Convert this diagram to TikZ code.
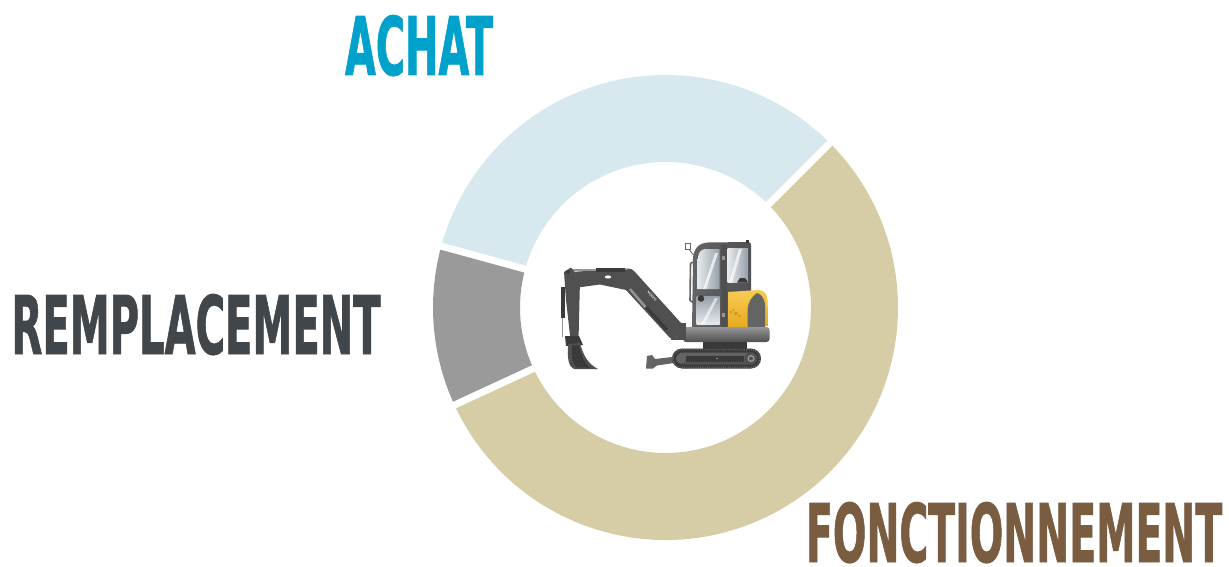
\documentclass[tikz,border=0pt]{standalone}
\usepackage{fontspec}
\usepackage{graphicx}
\newfontfamily\labelfont{DejaVu Sans Condensed}[BoldFeatures={FakeBold=1.2}]
\definecolor{achatblue}{RGB}{0,161,203}
\definecolor{remgray}{RGB}{65,70,74}
\definecolor{foncbrown}{RGB}{122,92,64}
\definecolor{ringblue}{RGB}{215,232,238}
\definecolor{ringgray}{RGB}{154,154,154}
\definecolor{ringtan}{RGB}{214,204,166}
\definecolor{exdark}{RGB}{58,58,58}
\definecolor{exbody}{RGB}{80,80,80}
\definecolor{exmid}{RGB}{100,100,100}
\definecolor{exlight}{RGB}{150,150,150}
\definecolor{glassA}{RGB}{232,235,238}
\definecolor{glassB}{RGB}{150,160,170}
\definecolor{yelA}{RGB}{248,204,84}
\definecolor{yelB}{RGB}{232,168,30}
\tikzset{
  bigtext/.style={anchor=north west, inner sep=0pt, outer sep=0pt},
  gapline/.style={white, line width=7pt},
}
\begin{document}
\begin{tikzpicture}[x=1pt,y=-1pt]
\useasboundingbox (0,0) rectangle (1229,567);
% ---------------- donut ----------------
\begin{scope}[shift={(665.5,307.5)}]
  \fill[ringblue] (-45:232.5) arc[start angle=-45, end angle=-164.7, radius=232.5]
     -- (-164.7:145.5) arc[start angle=-164.7, end angle=-45, radius=145.5] -- cycle;
  \fill[ringgray] (-164.7:232.5) arc[start angle=-164.7, end angle=-204.8, radius=232.5]
     -- (-204.8:145.5) arc[start angle=-204.8, end angle=-164.7, radius=145.5] -- cycle;
  \fill[ringtan] (-204.8:232.5) arc[start angle=-204.8, end angle=-405, radius=232.5]
     -- (-405:145.5) arc[start angle=-405, end angle=-204.8, radius=145.5] -- cycle;
  \draw[gapline] (-45:140) -- (-45:240);
  \draw[gapline] (-164.7:140) -- (-164.7:240);
  \draw[gapline] (-204.8:140) -- (-204.8:240);
\end{scope}
% ---------------- labels ----------------
\node[bigtext, text=achatblue] (achat) at (345,15)
  {\resizebox{148pt}{60pt}{\labelfont\bfseries ACHAT}};
\node[bigtext, text=remgray] (remp) at (11.5,294)
  {\resizebox{369pt}{60pt}{\labelfont\bfseries REMPLACEMENT}};
\node[bigtext, text=foncbrown] (fonc) at (806,502)
  {\resizebox{416pt}{60pt}{\labelfont\bfseries FONCTIONNEMENT}};
% ---------------- excavator ----------------
% dozer blade
\fill[exmid] (647,356) -- (652,355) -- (655,359) -- (672,357) -- (674,363) -- (657,365.5) -- (653,368.5) -- (646,368.5) -- cycle;
% track
\fill[exdark, rounded corners=10pt] (672,348.5) rectangle (761,368.5);
\draw[exmid, line width=1.6pt, dash pattern=on 1pt off 1.3pt, rounded corners=9pt] (673,349.5) rectangle (760,367.5);
\shade[top color=exmid, bottom color=exbody, rounded corners=6pt] (676.5,352.5) rectangle (756.5,364.5);
\fill[exdark] (686,355.5) rectangle (744,361.5);
\fill[exmid] (681,358.5) circle[radius=5];
\fill[exbody] (751,358.5) circle[radius=6.2];
\fill[exlight] (751,358.5) circle[radius=3.6];
\fill[exbody] (751,358.5) circle[radius=2];
\fill[exlight] (717,358.5) circle[radius=0.9];
% swing ring
\fill[exdark] (703,341.5) rectangle (747,349);
% cab body
\shade[left color=exmid, right color=exbody] (692,330) -- (693,258) .. controls (694,248) and (699,243) .. (708,242.5)
   -- (748,242) .. controls (750,242) and (751,243) .. (751,245) -- (751,300) -- (730,300) -- (730,330) -- cycle;
% front upper window
\shade[left color=glassA, right color=glassB] (697.5,262) .. controls (698,253) and (700,249.5) .. (705,249)
   -- (719.5,249) -- (719.5,289) -- (697,289) -- cycle;
\fill[white, opacity=0.7] (703,289) -- (715,253) -- (718,253) -- (706,289) -- cycle;
% front lower window
\shade[top color=glassB, bottom color=glassA] (696.5,296) rectangle (719.5,324.5);
\fill[white, opacity=0.6] (701,324.5) -- (715,298) -- (718,298) -- (704,324.5) -- cycle;
\fill[exdark] (701,298.5) circle[radius=3.3];
% side window
\shade[left color=glassA, right color=glassB] (727.5,248) rectangle (748,282.5);
\fill[white, opacity=0.7] (729,282.5) -- (739,249) -- (742,249) -- (732,282.5) -- cycle;
\fill[exdark] (737,282.5) -- (740,278) -- (745,278) -- (748,282.5) -- cycle;
% door pillar
\fill[exbody] (721,245) rectangle (726.5,328);
\fill[exlight] (722.2,256) rectangle (725.3,259.5);
\fill[exlight] (722.2,313) rectangle (725.3,316.5);
% handrail and mirror
\draw[exmid, line width=1.6pt, rounded corners=1pt] (694,262) -- (690.5,263) -- (690,301) -- (693,302);
\draw[exmid, line width=0.8pt] (688,248) -- (693.5,255);
\fill[white, draw=exmid, line width=0.5pt] (685.5,243.5) rectangle (690,249);
\fill[exdark] (746,239.5) rectangle (748.5,242.5);
% engine cover
\shade[top color=yelA, bottom color=yelB] (728,292) -- (758,290) .. controls (764,290) and (767,293) .. (767.5,300)
   -- (768.5,326) -- (728,328) -- cycle;
\fill[exmid] (757,293) .. controls (751,297) and (748,303) .. (747.5,310) -- (747.5,328) -- (765,328)
   -- (765,304) .. controls (764,298) and (761,294) .. (757,293) -- cycle;
\draw[yelB!80!black, line width=0.4pt] (731,312) circle[radius=0.9] (733.5,309.8) circle[radius=0.7]
   (736,313.5) circle[radius=1.5] (739.5,316) circle[radius=0.9];
% base body
\shade[top color=exlight, bottom color=exbody, rounded corners=3pt] (683,327) rectangle (769.5,342);
% boom bracket
\fill[exbody] (671,323) rectangle (686,340);
\fill[exlight] (676,328) circle[radius=1.5] (676,336) circle[radius=1.5];
% boom
\fill[exbody] (570,272) -- (628,268.5) .. controls (631,268.5) and (633,269.5) .. (635,272) -- (681,323)
   -- (679,336) -- (670,338) -- (626,290) -- (600,284.5) -- (578,287.5) -- cycle;
\draw[exlight, line width=0.6pt] (600,270.8) -- (628,269.2);
\fill[white] (608,277) ellipse[x radius=3.2, y radius=1.6];
% boom cylinder
\draw[exlight, line width=2.4pt] (630,289) -- (648,310);
\draw[exdark, line width=3.2pt] (646,307) -- (667,330);
% arm cylinder on top
\draw[exlight, line width=1.2pt] (570,270) -- (598,270);
\fill[exdark] (596,268.3) rectangle (625,271.7);
% VOLVO logo
\node[text=white, font=\sffamily\bfseries, scale=0.35, rotate=-47, inner sep=0pt] (volvo) at (652,296) {VOLVO};
% dipper arm
\fill[exbody] (564,272) -- (571,267.5) -- (580,279) -- (578.5,341) -- (571,344) -- (566,300) -- cycle;
\draw[exlight, line width=1.2pt] (562.5,288) -- (562.5,337);
\fill[exdark] (561,287) rectangle (564.5,318);
\fill[exdark] (568,272) circle[radius=2];
% bucket linkage and bucket
\fill[exdark] (565,336) -- (579,336) -- (583,345) -- (566,346) -- cycle;
\fill[exbody] (568,344) -- (580,343) .. controls (583,355) and (588,364) .. (598,369) -- (574,369)
   .. controls (569,367) and (567,360) .. (568,344) -- cycle;
\fill[exdark] (572,345) -- (579,345) .. controls (581,355) and (584,362) .. (590,367.5) -- (577,367.5)
   .. controls (573,365) and (571,358) .. (572,345) -- cycle;
\end{tikzpicture}
\end{document}
